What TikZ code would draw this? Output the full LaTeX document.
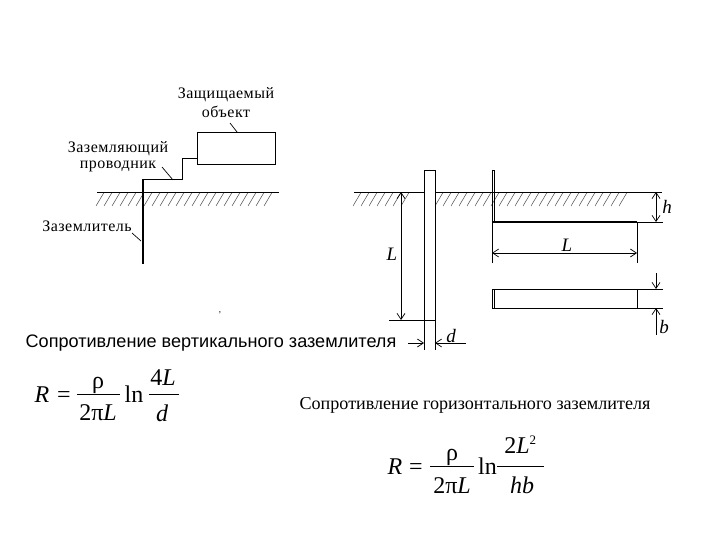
\documentclass[tikz,border=0pt]{standalone}
\usepackage{fontspec}
\usetikzlibrary{arrows.meta}
\setmainfont{Liberation Serif}
\newfontfamily\arialf{Liberation Sans}
\newfontfamily\spacedf[LetterSpace=3]{Liberation Serif}
\tikzset{
  thinline/.style={line width=0.9pt,line cap=butt},
  heavyline/.style={line width=2.2pt},
  hatchline/.style={line width=0.5pt,black!70},
  dim/.style={line width=0.8pt,{Straight Barb[length=6pt,width=8pt,line width=0.7pt]}-{Straight Barb[length=6pt,width=8pt,line width=0.7pt]}},
  dimin/.style={line width=0.8pt,-{Straight Barb[length=6pt,width=8pt,line width=0.7pt]}},
  lbl/.style={inner sep=0pt,font=\fontsize{16pt}{16pt}\spacedf},
  sym/.style={inner sep=0pt,font=\fontsize{19pt}{19pt}\itshape},
  eq/.style={inner sep=0pt,anchor=base,font=\fontsize{24pt}{24pt}\selectfont},
  leader/.style={line width=0.7pt}
}
\begin{document}
\begin{tikzpicture}[x=1pt,y=-1pt]
\useasboundingbox[fill=white] (0,0) rectangle (720,540);
% hatching
\foreach \x in {104,112,...,279} \draw[hatchline] (\x,192.5) -- (\x-8,206);
\foreach \x in {361,369,...,416} \draw[hatchline] (\x,192.5) -- (\x-8,206);
\foreach \x in {443,451,...,631} \draw[hatchline] (\x,192.5) -- (\x-8,206);
% left figure
\draw[thinline] (97,192) -- (279,192);
\node[draw,line width=0.9pt,minimum width=78pt,minimum height=32pt,inner sep=0pt,anchor=north west] (obj) at (197,132) {};
\coordinate (c1) at (197,159);
\draw[line width=1pt] (c1) -- (182,159) -- (182,180) -- (143,180) -- (143,192);
\draw[heavyline] (143,179.5) -- (143,264);
\node[lbl] (t1) at (226,95) {Защищаемый};
\node[lbl] (t2) at (226,112) {объект};
\node[lbl] (t3) at (118,149) {Заземляющий};
\node[lbl] (t4) at (118,166) {проводник};
\node[lbl] (t5) at (87,226) {Заземлитель};
\draw[leader] (230,123) -- (237,132);
\draw[leader] (162,167) -- (173,180);
\draw[leader] (132,233) -- (141,241);
\node[inner sep=0pt,font=\fontsize{9pt}{9pt}\selectfont] (tick) at (220,313) {,};
% middle figure
\draw[thinline] (354,192) -- (424,192);
\draw[thinline] (435,192) -- (662,192);
\draw[line width=0.9pt] (424,350) -- (424,170) -- (435,170) -- (435,350);
\draw[dim] (401,192) -- (401,320);
\draw[thinline] (389,320) -- (435,320);
\draw[dimin] (408,343) -- (424,343);
\draw[dimin] (466,343) -- (435,343);
\node[sym] (ld) at (392,254) {L};
\node[sym] (dd) at (451,336) {d};
% right figure
\draw[line width=0.9pt] (492,263) -- (492,170) -- (494,170) -- (494,221);
\draw[line width=1.2pt] (493,222) -- (637,222);
\draw[thinline] (637,222) -- (663,222);
\draw[thinline] (637,222) -- (637,263);
\draw[dim] (492,253) -- (637,253);
\draw[dim] (656,192) -- (656,222);
\node[sym] (lh) at (567,245) {L};
\node[sym] (hh) at (667,207) {h};
\draw[line width=0.9pt] (663,289) -- (492,289) -- (492,308) -- (663,308);
\draw[thinline] (494.5,289) -- (494.5,308);
\draw[thinline] (637,289) -- (637,308);
\draw[dimin] (656,273) -- (656,289);
\draw[line width=0.8pt,{Straight Barb[length=6pt,width=8pt,line width=0.7pt]}-] (656,308) -- (656,335);
\node[sym] (bb) at (664,327) {b};
% captions
\node[inner sep=0pt,font=\fontsize{18.1pt}{18pt}\arialf] (cap1) at (211,343) {Сопротивление вертикального заземлителя};
\node[inner sep=0pt,font=\fontsize{18.1pt}{18pt}\selectfont] (cap2) at (475,405.5) {Сопротивление горизонтального заземлителя};
% formula 1
\node[eq] at (42,402) {\itshape R};
\node[eq] at (64,402) {=};
\draw[thinline] (77,394) -- (120,394);
\node[eq] at (98,388) {ρ};
\node[eq] at (98,420.5) {2π\itshape L};
\node[eq] at (134,402) {ln};
\draw[thinline] (149,394) -- (179,394);
\node[eq] at (163,385) {4\itshape L};
\node[eq] at (162,421) {\itshape d};
% formula 2
\node[eq] at (395,474) {\itshape R};
\node[eq] at (416,474) {=};
\draw[thinline] (430,466) -- (474,466);
\node[eq] at (452,460) {ρ};
\node[eq] at (452,493) {2π\itshape L};
\node[eq] at (487.5,474) {ln};
\draw[thinline] (497,466) -- (544,466);
\node[eq] at (517,453) {2\itshape L\rlap{\raisebox{9pt}{\upshape\fontsize{13pt}{13pt}\selectfont 2}}};
\node[eq] at (522,493) {\itshape hb};
\end{tikzpicture}
\end{document}
